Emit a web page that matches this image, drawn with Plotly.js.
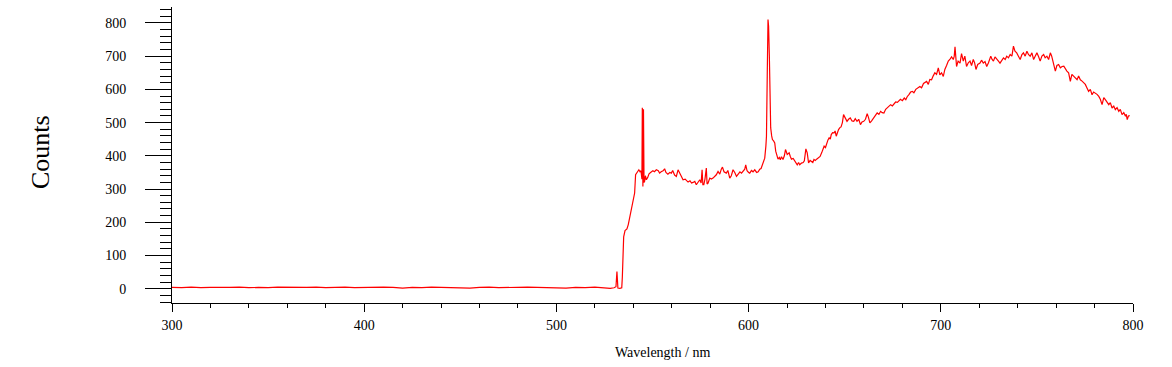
<!DOCTYPE html>
<html>
<head>
<meta charset="utf-8">
<script src="https://cdn.plot.ly/plotly-3.0.1.min.js"></script>
<style>html,body{margin:0;padding:0;background:#fff;}#chart{width:1172px;height:367px;}</style>
</head>
<body>
<div id="chart"></div>
<script>
// Baseline region (nm, counts)
const baseWl = [300,305,310,315,320,325,330,335,340,345,350,355,360,365,370,375,380,385,390,395,400,405,410,415,420,425,430,435,440,445,450,455,460,465,470,475,480,485,490,495,500,505,510,515,520,525,528];
const baseCounts = [4,3,5,3,4,3,4,5,3,4,3,5,4,3,4,5,3,4,5,3,4,3,5,4,2,4,3,5,4,3,4,2,4,5,3,4,3,5,4,3,4,2,4,3,5,3,1];

// Spectral feature region (nm, counts)
const featWl = [530,531,531.5,532,533,534,534.3,534.6,535,535.7,536.7,537.4,538.1,539,539.8,540.7,541.2,541.9,542.9,543.5,544,544.5,544.7,545,545.3,545.6,545.9,546.3,546.8,547.5,548.2,549,550.2,551,552,553,553.7,554.5,555.5,556.3,557,558,559,559.8,560.5,561.5,562.4,563.3,564,565,565.9,567,568.5,569.5,570.3,571.1,572,572.8,573.8,574.6,575.3,575.8,576.2,576.7,577.3,578,578.4,578.9,579.8,580.6,581.5,582.3,583.2,584.1,585,585.8,586.4,587.2,588.4,589.2,590.2,591,591.9,592.8,593.7,594.6,595.5,596.3,597.2,598,598.5,599.2,600,600.6,601.5,602.3,603.2,604.2,605,605.8,606.5,607.2,607.8,608.4,609,609.3,609.7,610.1,610.4,610.8,611,611.2,611.5,612,612.4,613,613.6,614.1,614.7,615.3,616,616.5,617.1,617.9,618.6,619.2,620.1,621.1,621.7,622.3,623.2,624,624.7,625.3,626,626.6,627.5,628.4,629,629.8,630.5,631.2,632,632.8,633.4,634,634.7,635.4,636.3,637.2,638,638.6,639.3,640,640.7,641.3,641.9,642.5,643,643.7,644.5,645,645.6,646.2,646.8,647.5,648.1,648.8,649.4,650.2,651.2,652,652.9,653.8,654.7,655.5,656.4,657.3,658.2,659,659.9,660.8,661.7,662.4,663.1,664,665.2,666,666.9,667.8,668.7,669.5,670.4,671.3,672.2,673,673.9,674.8,675.7,676.5,677.4,678.3,679,680,681,681.8,682.5,683.5,684.3,685.2,686,687,688,689.1,690,691,692.6,693.5,694.3,695.2,696,696.9,697.8,698.7,699.5,700.4,701.3,702.1,703,703.9,704.7,705.6,706.5,707,707.4,707.8,708.2,709,710,710.8,711.2,711.7,712.5,713.4,714.3,715.2,716,716.9,717.6,718.3,719.2,720.4,721.2,722.1,723,723.9,724.8,726,726.7,727.4,728.2,729.1,730,730.8,731.7,732.6,733.5,734.3,735.2,736.1,737,737.8,738.6,739.5,740.4,741.3,742.2,743,743.9,744.8,745.6,746.5,747.4,748.3,749.1,750,750.9,751.7,752.6,753.5,754.3,755.2,756.1,757,757.7,758.4,759,759.6,760.4,761.3,762.2,763.1,764,764.8,765.6,766.5,767.4,768.2,769.1,770,770.9,771.7,772.6,773.5,774.3,775.2,776,776.9,777.8,778.7,779.5,780.4,781.3,782.2,783,783.9,784.8,785.6,786.5,787.4,788.2,789.1,790,790.8,791.7,792.6,793.4,794.3,795.2,796.1,796.5,797,797.6,798.3];
const featCounts = [3,6,52,2,1,3,34,112,156,175,180,193,213,233,263,288,343,350,358,352,355,330,545,308,540,320,323,340,328,335,346,350,355,352,358,355,348,352,355,361,350,345,350,348,356,342,338,358,350,340,328,330,321,325,318,320,323,313,322,328,318,358,313,313,330,363,315,318,333,330,333,338,343,353,345,360,366,352,348,356,333,340,358,350,338,345,352,348,355,360,373,355,350,348,356,352,358,350,352,360,362,373,380,393,430,459,640,810,790,700,569,564,484,460,449,445,439,414,400,390,395,388,397,389,400,419,404,409,398,390,392,383,378,373,380,373,378,380,385,421,409,379,386,383,380,389,386,390,395,398,409,420,429,425,439,448,454,450,464,470,469,475,459,470,479,485,487,500,524,515,504,510,514,505,504,512,504,510,494,502,504,510,527,515,499,505,514,520,529,525,534,530,529,540,544,548,554,550,557,562,561,565,570,566,574,569,578,585,592,594,590,600,604,609,605,618,624,615,630,629,640,650,645,665,644,650,639,660,672,685,690,698,690,700,728,700,669,685,679,708,690,685,700,669,680,685,672,690,680,660,675,679,688,679,684,669,680,700,690,685,698,690,685,679,688,695,690,700,695,705,700,730,715,710,700,690,705,710,700,715,705,700,710,690,700,710,698,685,700,705,695,700,690,710,700,685,665,655,672,675,665,669,670,660,655,650,624,645,639,635,629,640,629,625,619,615,605,594,600,584,592,589,585,579,570,554,575,569,560,554,560,544,550,539,545,534,540,524,530,519,525,509,520,521];

const xTickVals = [300,400,500,600,700,800];
const yTickVals = [0,100,200,300,400,500,600,700,800];
const xTitle = 'Wavelength / nm';
const yTitle = 'Counts';

const wl = baseWl.concat(featWl);
const counts = baseCounts.concat(featCounts);

const font = 'Liberation Serif, Times New Roman, serif';

const trace = {
  x: wl, y: counts, type: 'scatter', mode: 'lines',
  line: {color: '#ff0000', width: 1.2},
  hoverinfo: 'skip'
};

const layout = {
  width: 1172, height: 367,
  margin: {l: 172, r: 39, t: 7, b: 64},
  paper_bgcolor: '#ffffff', plot_bgcolor: '#ffffff',
  showlegend: false,
  font: {family: font, color: '#000', size: 14},
  xaxis: {
    range: [300, 800], tickvals: xTickVals, ticktext: xTickVals.map(String),
    showgrid: false, zeroline: false, showline: true, linecolor: '#000', linewidth: 1,
    ticks: 'outside', ticklen: 8, tickwidth: 1, tickcolor: '#000',
    tickfont: {family: font, size: 14, color: '#000'},
    ticklabelstandoff: 1,
    minor: {dtick: 20, tick0: 300, ticks: 'outside', ticklen: 4, tickwidth: 1, tickcolor: '#000', showgrid: false}
  },
  yaxis: {
    range: [-43, 848], tickvals: yTickVals, ticktext: yTickVals.map(String),
    showgrid: false, zeroline: false, showline: true, linecolor: '#000', linewidth: 1,
    ticks: 'outside', ticklen: 26, tickwidth: 1, tickcolor: '#000',
    tickfont: {family: font, size: 14, color: '#000'},
    ticklabelstandoff: 16,
    minor: {dtick: 20, tick0: 0, ticks: 'outside', ticklen: 11, tickwidth: 1, tickcolor: '#000', showgrid: false}
  },
  annotations: [
    {text: xTitle, xref: 'paper', yref: 'paper', x: (662.5-172)/961, y: -(352-303)/296,
     xanchor: 'center', yanchor: 'middle', showarrow: false, font: {family: font, size: 14, color: '#000'}},
    {text: yTitle, xref: 'paper', yref: 'paper', x: (40-172)/961, y: (303-152)/296,
     xanchor: 'center', yanchor: 'middle', textangle: -90, showarrow: false, font: {family: font, size: 26, color: '#000'}}
  ]
};

Plotly.newPlot('chart', [trace], layout, {displayModeBar: false, staticPlot: true});
</script>
</body>
</html>
